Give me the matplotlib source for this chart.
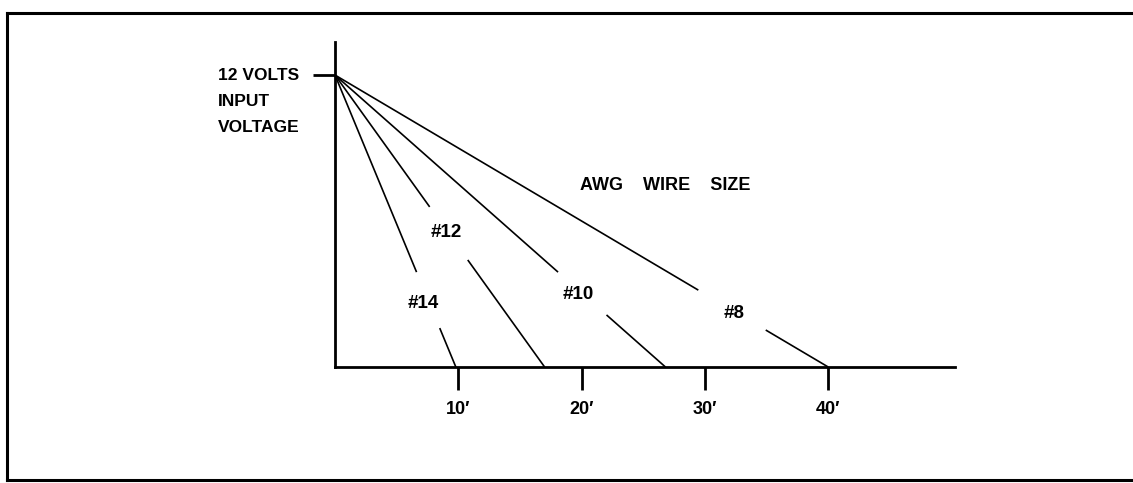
import matplotlib
matplotlib.use("Agg")
import matplotlib.pyplot as plt
import numpy as np

# ---- data ----
input_voltage = 12.0
wire_sizes = ["#14", "#12", "#10", "#8"]
max_length_ft = [9.8, 17.0, 26.8, 40.0]          # length where voltage reaches 0
gap_upper_v = [3.90, 6.58, 3.90, 3.16]            # line broken between these voltages
gap_lower_v = [1.60, 4.40, 2.14, 1.52]
x_ticks = [10, 20, 30, 40]
x_tick_labels = ["10\u2032", "20\u2032", "30\u2032", "40\u2032"]
y_label_lines = ["12 VOLTS", "INPUT", "VOLTAGE"]
title_text = "AWG    WIRE    SIZE"

# ---- layout ----
label_pos = [(7.14, 2.63), (9.0, 5.51), (19.7, 3.0), (32.4, 2.18)]
title_pos = (26.8, 7.48)

W, H = 1133, 483
fig = plt.figure(figsize=(W / 100, H / 100), dpi=100)
plt.rcParams['font.family'] = ['Liberation Sans', 'DejaVu Sans']

x0, x1 = 335, 955
y0, y1 = 367, 42
ax = fig.add_axes([x0 / W, (H - y0) / H, (x1 - x0) / W, (y0 - y1) / H])
ax.set_xlim(0, (x1 - x0) / 12.33)
ax.set_ylim(0, (y0 - y1) / 24.33)
for s in ["top", "right"]:
    ax.spines[s].set_visible(False)
for s in ["left", "bottom"]:
    ax.spines[s].set_linewidth(2.0)
    ax.spines[s].set_color("black")

ax.set_xticks(x_ticks)
ax.set_xticklabels(x_tick_labels, fontsize=13, fontweight="bold")
ax.set_yticks([input_voltage])
ax.set_yticklabels([""])
ax.tick_params(axis="x", direction="out", length=16.5, width=2.0, pad=8)
ax.tick_params(axis="y", direction="out", length=16, width=2.0)

lw = 1.2
for L, gu, gl, name, (lx, ly) in zip(max_length_ft, gap_upper_v, gap_lower_v,
                                     wire_sizes, label_pos):
    # voltage along the line: V = 12 * (1 - x / L)
    xu = L * (1 - gu / input_voltage)
    xl = L * (1 - gl / input_voltage)
    ax.plot([0, xu], [input_voltage, gu], color="black", lw=lw,
            solid_capstyle="butt", clip_on=False)
    ax.plot([xl, L], [gl, 0], color="black", lw=lw,
            solid_capstyle="butt", clip_on=False)
    ax.text(lx, ly, name, ha="center", va="center", fontsize=13.5,
            fontweight="bold")

ax.text(title_pos[0], title_pos[1], title_text, ha="center", va="center",
        fontsize=13, fontweight="bold")

# y label block (left of axis)
for i, t in enumerate(y_label_lines):
    fig.text(218 / W, 1 - (75 + 26.5 * i) / H, t, ha="left", va="center",
             fontsize=12.5, fontweight="bold")

# outer border (top, left, bottom)
fig.add_artist(plt.Line2D([7 / W, 7 / W], [1 - 13 / H, 1 - 480 / H],
                          transform=fig.transFigure, color="black", lw=2.2))
fig.add_artist(plt.Line2D([7 / W, 1.0], [1 - 13 / H, 1 - 13 / H],
                          transform=fig.transFigure, color="black", lw=2.2))
fig.add_artist(plt.Line2D([7 / W, 1.0], [1 - 480 / H, 1 - 480 / H],
                          transform=fig.transFigure, color="black", lw=2.2))

fig.savefig("out.png", dpi=100)
